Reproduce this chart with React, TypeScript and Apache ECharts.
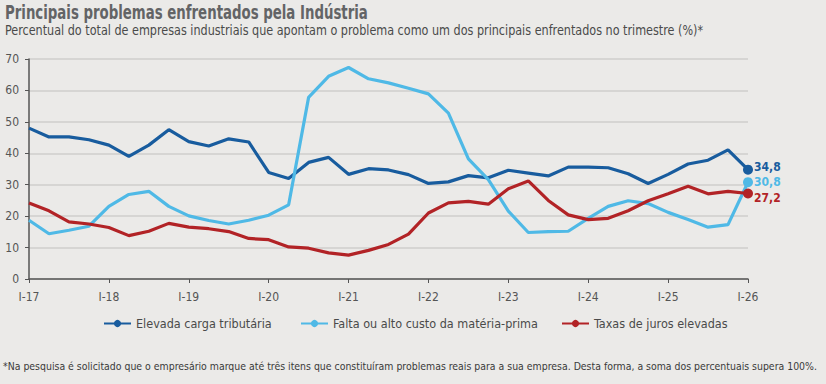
import React, { useEffect, useRef } from "react";
import * as echarts from "echarts";

const categories: string[] = [];
const years = ["17", "18", "19", "20", "21", "22", "23", "24", "25", "26"];
const quarters = ["I", "II", "III", "IV"];
years.forEach((y, i) => {
  quarters.forEach((q, j) => {
    if (i === years.length - 1 && j > 0) return;
    categories.push(`${q}-${y}`);
  });
});

const cargaTributaria = [
  48.0, 45.2, 45.2, 44.3, 42.6, 39.0, 42.6, 47.5, 43.7, 42.3, 44.6, 43.6,
  33.9, 32.0, 37.1, 38.7, 33.3, 35.1, 34.7, 33.2, 30.4, 30.9, 32.9, 32.2,
  34.6, 33.7, 32.8, 35.6, 35.6, 35.4, 33.5, 30.4, 33.3, 36.6, 37.8, 41.1, 34.8,
];
const materiaPrima = [
  18.7, 14.4, 15.5, 16.8, 23.1, 26.9, 27.9, 23.1, 20.1, 18.6, 17.5, 18.7,
  20.3, 23.6, 57.8, 64.5, 67.3, 63.7, 62.4, 60.7, 58.9, 52.8, 38.2, 31.6,
  21.6, 14.8, 15.1, 15.2, 19.3, 23.1, 24.9, 24.0, 21.2, 18.9, 16.5, 17.3, 30.8,
];
const jurosElevados = [
  24.2, 21.7, 18.2, 17.5, 16.4, 13.8, 15.2, 17.7, 16.5, 16.0, 15.1, 12.9,
  12.5, 10.2, 9.8, 8.3, 7.6, 9.1, 11.0, 14.3, 21.0, 24.2, 24.7, 23.8,
  28.7, 31.2, 25.0, 20.4, 18.9, 19.3, 21.7, 24.9, 27.1, 29.5, 27.1, 27.9, 27.2,
];

const seriesNames = [
  "Elevada carga tributária",
  "Falta ou alto custo da matéria-prima",
  "Taxas de juros elevadas",
];
const colors = ["#185C9E", "#4FB9E6", "#B22326"];

const titleText = "Principais problemas enfrentados pela Indústria";
const subtitleText =
  "Percentual do total de empresas industriais que apontam o problema como um dos principais enfrentados no trimestre (%)*";
const footnoteText =
  "*Na pesquisa é solicitado que o empresário marque até três itens que constituíram problemas reais para a sua empresa. Desta forma, a soma dos percentuais supera 100%.";

const FONT = "'Liberation Sans Narrow', 'DejaVu Sans Condensed', 'Roboto', sans-serif";

export default function App() {
  const ref = useRef<HTMLDivElement>(null);
  useEffect(() => {
    if (!ref.current) return;
    const chart = echarts.init(ref.current, undefined, { renderer: "svg" });
    const last = categories.length - 1;
    const mk = (name: string, data: number[], color: string, offsetY: number) => ({
      name,
      type: "line",
      data,
      color,
      symbol: "circle",
      symbolSize: (_v: any, p: any) => (p.dataIndex === last ? 10 : 0),
      showSymbol: true,
      lineStyle: { width: 3.2, color },
      itemStyle: { color },
      endLabel: {
        show: true,
        formatter: (p: any) => String(p.value).replace(".", ","),
        color,
        fontWeight: "bold",
        fontSize: 12,
        fontFamily: FONT,
        distance: 6,
        offset: [0, offsetY],
      },
      z: 3,
    });
    const legendBase = {
      top: 317,
      padding: 0,
      itemWidth: 27,
      itemHeight: 9,
      textStyle: { fontSize: 12.5, color: "#4a4a4a", fontFamily: FONT },
    };
    chart.setOption({
      animation: false,
      backgroundColor: "#EBEAE8",
      textStyle: { fontFamily: FONT },
      graphic: [
        {
          type: "text",
          x: 5,
          y: 3,
          scaleX: 0.78,
          style: {
            text: titleText,
            fontSize: 19,
            fontWeight: "bold",
            fontFamily: FONT,
            fill: "#636466",
            verticalAlign: "top",
          },
        },
        {
          type: "text",
          x: 5,
          y: 23,
          scaleX: 0.89,
          style: {
            text: subtitleText,
            fontSize: 14,
            fontFamily: FONT,
            fill: "#4a4a4a",
            verticalAlign: "top",
          },
        },
        {
          type: "text",
          x: 3,
          y: 361,
          scaleX: 0.948,
          style: {
            text: footnoteText,
            fontSize: 11,
            fontFamily: FONT,
            fill: "#3a3a3a",
            verticalAlign: "top",
          },
        },
      ],
      legend: [
        { ...legendBase, left: 103, data: [seriesNames[0]] },
        { ...legendBase, left: 300, data: [seriesNames[1]] },
        { ...legendBase, left: 561, data: [seriesNames[2]] },
      ],
      grid: { left: 29, right: 78, top: 59, bottom: 105, containLabel: false },
      xAxis: {
        type: "category",
        data: categories,
        boundaryGap: false,
        axisLine: { lineStyle: { color: "#555", width: 1.5 } },
        axisTick: {
          show: true,
          interval: (i: number) => i % 4 === 0,
          length: 4,
          lineStyle: { color: "#555" },
        },
        axisLabel: {
          interval: (i: number) => i % 4 === 0,
          color: "#555",
          fontSize: 12,
          margin: 12,
          fontFamily: FONT,
        },
        splitLine: { show: false },
      },
      yAxis: {
        type: "value",
        min: 0,
        max: 70,
        interval: 10,
        axisLine: { show: true, lineStyle: { color: "#555", width: 1.5 } },
        axisTick: { show: true, length: 4, lineStyle: { color: "#555" } },
        axisLabel: { color: "#555", fontSize: 12, margin: 10, fontFamily: FONT },
        splitLine: { lineStyle: { color: "#CFCECC", width: 1.5 } },
      },
      series: [
        mk(seriesNames[0], cargaTributaria, colors[0], -3),
        mk(seriesNames[1], materiaPrima, colors[1], 0),
        mk(seriesNames[2], jurosElevados, colors[2], 4),
      ],
    });
    return () => chart.dispose();
  }, []);
  return <div ref={ref} style={{ width: 826, height: 384, position: "absolute", left: 0, top: 0 }} />;
}
